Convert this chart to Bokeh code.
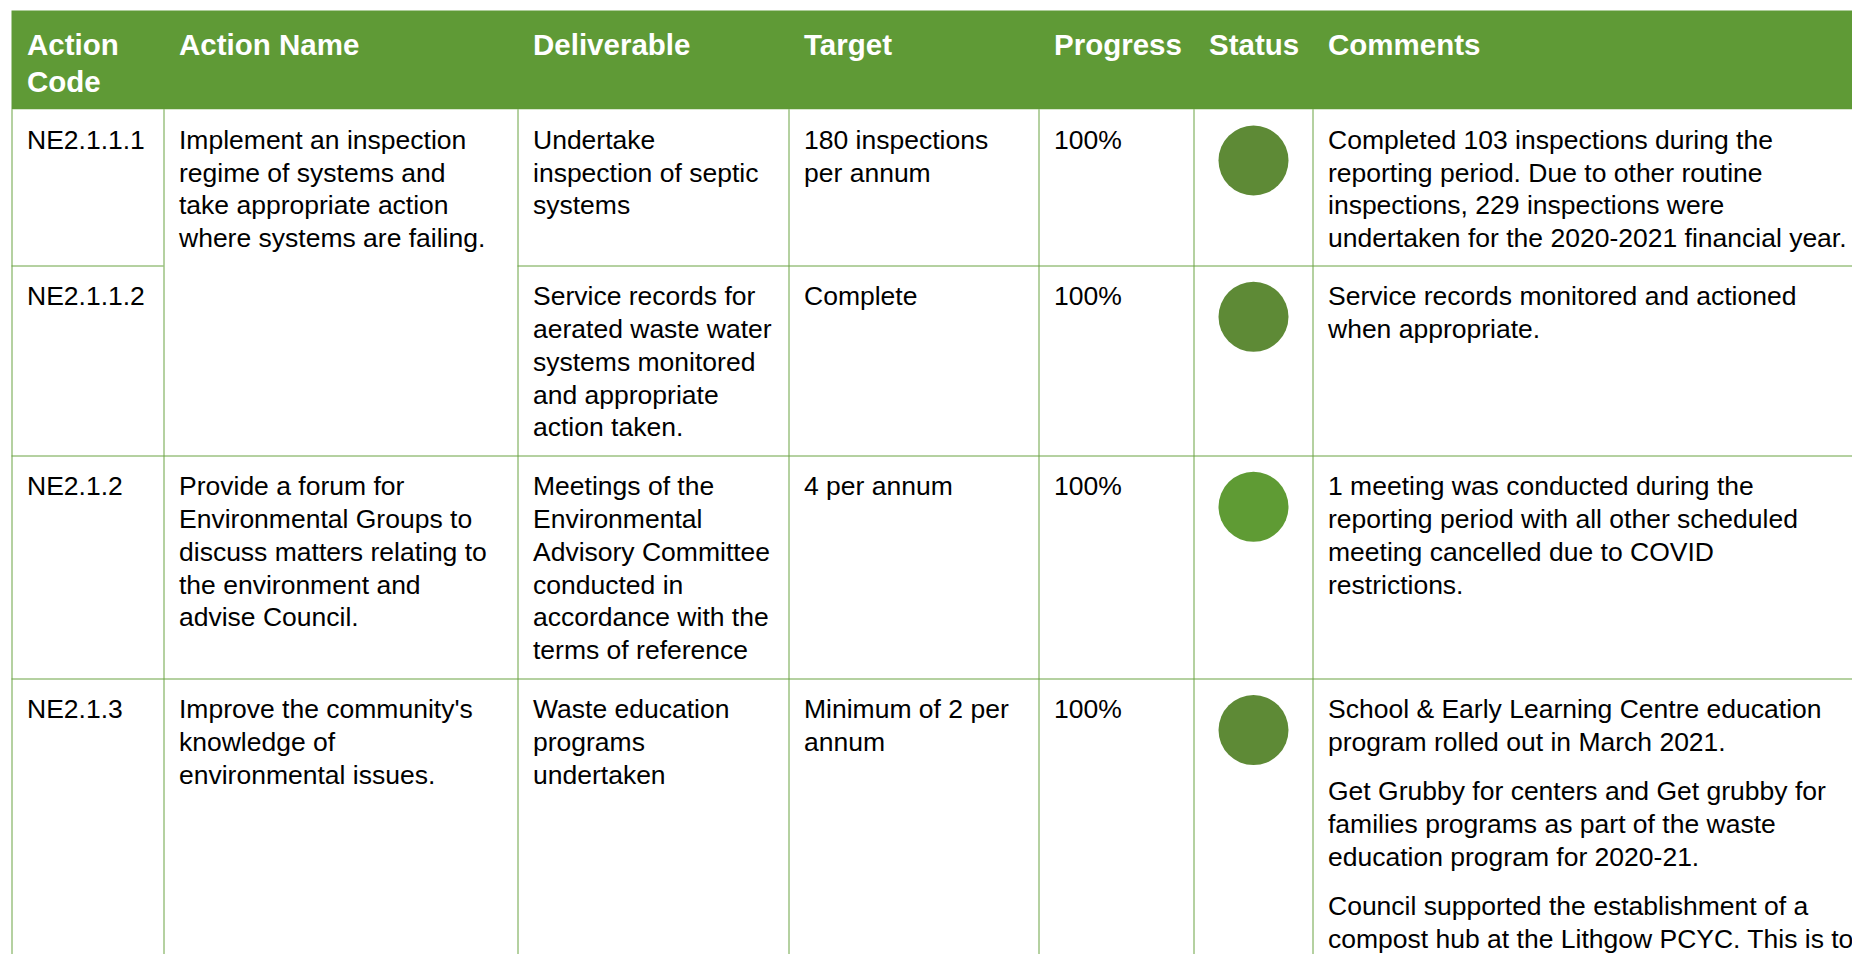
from bokeh.plotting import figure
from bokeh.models import Range1d
from bokeh.core.properties import value
from bokeh.embed import file_html
from bokeh.resources import INLINE

# ---------------- data ----------------
headers = [["Action", "Code"], ["Action Name"], ["Deliverable"], ["Target"],
           ["Progress"], ["Status"], ["Comments"]]

codes = ["NE2.1.1.1", "NE2.1.1.2", "NE2.1.2", "NE2.1.3"]

# action name cells (first one spans the first two rows)
action_names = [
    ["Implement an inspection", "regime of systems and", "take appropriate action",
     "where systems are failing."],
    None,
    ["Provide a forum for", "Environmental Groups to", "discuss matters relating to",
     "the environment and", "advise Council."],
    ["Improve the community's", "knowledge of", "environmental issues."],
]

deliverables = [
    ["Undertake", "inspection of septic", "systems"],
    ["Service records for", "aerated waste water", "systems monitored",
     "and appropriate", "action taken."],
    ["Meetings of the", "Environmental", "Advisory Committee", "conducted in",
     "accordance with the", "terms of reference"],
    ["Waste education", "programs", "undertaken"],
]

targets = [
    ["180 inspections", "per annum"],
    ["Complete"],
    ["4 per annum"],
    ["Minimum of 2 per", "annum"],
]

progress = ["100%", "100%", "100%", "100%"]

status_colors = ["#5E8A36", "#5E8A36", "#5F9B34", "#5E8A36"]

comments = [
    [["Completed 103 inspections during the", "reporting period. Due to other routine",
      "inspections, 229 inspections were", "undertaken for the 2020-2021 financial year."]],
    [["Service records monitored and actioned", "when appropriate."]],
    [["1 meeting was conducted during the", "reporting period with all other scheduled",
      "meeting cancelled due to COVID", "restrictions."]],
    [["School & Early Learning Centre education", "program rolled out in March 2021."],
     ["Get Grubby for centers and Get grubby for", "families programs as part of the waste",
      "education program for 2020-21."],
     ["Council supported the establishment of a",
      "compost hub at the Lithgow PCYC. This is to"]],
]

# ---------------- layout (screen pixel coordinates) ----------------
W, H = 1852, 954
X0, Y0 = 0, 0
col_edges = [11, 163, 517, 788, 1038, 1193, 1312]
pad_x = 15.5
header_top, header_bottom = 10, 108.7
row_tops = [108.7, 265, 455, 678.3]
text_adj = -10
first_base = 40.6 + text_adj
line_step = 32.8
para_step = 49.0
head_base = 54.3 + text_adj
head_step = 36.4

HEADER_GREEN = "#5F9A36"
LINE_GREEN = "#6AA343"
FONT = value("Liberation Sans")

p = figure(width=W, height=H, output_backend="svg", toolbar_location=None,
           x_range=Range1d(X0, X0 + W), y_range=Range1d(Y0 + H, Y0),
           min_border=0, outline_line_color=None, background_fill_color="white",
           border_fill_color="white")
p.axis.visible = False
p.grid.visible = False

# header band
p.quad(left=[col_edges[0]], right=[X0 + W + 20], top=[header_top], bottom=[header_bottom],
       fill_color=HEADER_GREEN, line_color=None)

# header texts
hx, hy, ht = [], [], []
for ci, lines in enumerate(headers):
    for li, t in enumerate(lines):
        hx.append(col_edges[ci] + pad_x)
        hy.append(head_base + li * head_step)
        ht.append(t)
p.text(x=hx, y=hy, text=ht, text_font=FONT, text_font_size="29.5px",
       text_font_style="bold", text_color="white", text_baseline="alphabetic",
       text_align="left")

# grid lines
bottom = Y0 + H + 5
vx0, vy0, vx1, vy1 = [], [], [], []
for e in col_edges:
    vx0.append(e + 0.5); vx1.append(e + 0.5)
    vy0.append(header_bottom); vy1.append(bottom)
right = X0 + W + 5
for ri, top in enumerate(row_tops[1:], start=1):
    yy = round(top) + 0.5
    if action_names[ri] is None:
        segs = [(col_edges[0], col_edges[1]), (col_edges[2], right)]
    else:
        segs = [(col_edges[0], right)]
    for a, b in segs:
        vx0.append(a); vx1.append(b); vy0.append(yy); vy1.append(yy)
p.segment(x0=vx0, y0=vy0, x1=vx1, y1=vy1, line_color=LINE_GREEN, line_width=1)

# body texts
bx, by, bt = [], [], []

def add_lines(ci, top, lines):
    for li, t in enumerate(lines):
        bx.append(col_edges[ci] + pad_x)
        by.append(top + first_base + li * line_step)
        bt.append(t)

for ri, top in enumerate(row_tops):
    add_lines(0, top, [codes[ri]])
    if action_names[ri] is not None:
        add_lines(1, top, action_names[ri])
    add_lines(2, top, deliverables[ri])
    add_lines(3, top, targets[ri])
    add_lines(4, top, [progress[ri]])
    base = top + first_base
    for para in comments[ri]:
        for li, t in enumerate(para):
            bx.append(col_edges[6] + pad_x)
            by.append(base + li * line_step)
            bt.append(t)
        base += (len(para) - 1) * line_step + para_step

p.text(x=bx, y=by, text=bt, text_font=FONT, text_font_size="26.5px",
       text_color="#000000", text_baseline="alphabetic", text_align="left")

# status dots
cx = [(col_edges[5] + col_edges[6]) / 2 + 0.5] * len(row_tops)
cy = [t + 51.3 for t in row_tops]
p.circle(x=cx, y=cy, radius=35, fill_color=status_colors, line_color=None)

open("out.html", "w").write(file_html(p, INLINE))
